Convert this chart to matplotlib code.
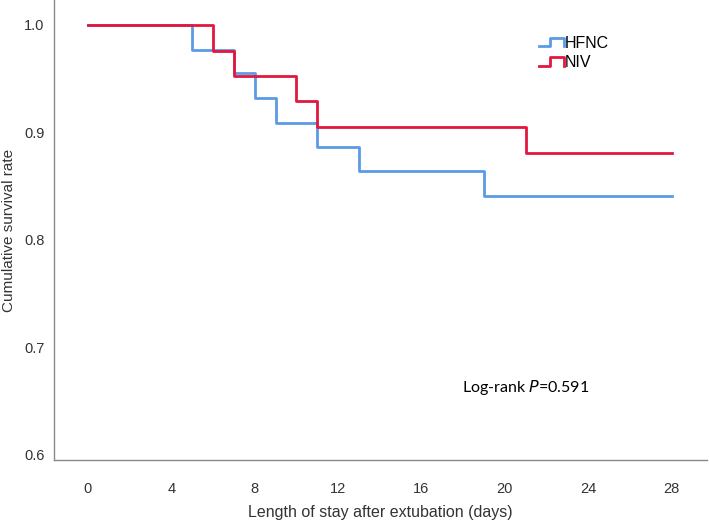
import matplotlib
matplotlib.use("Agg")
import matplotlib.pyplot as plt
from matplotlib.legend_handler import HandlerBase
from matplotlib.lines import Line2D

# Kaplan-Meier step data (days, survival)
hfnc_days = [0, 5, 7, 8, 9, 11, 13, 19, 28]
hfnc_surv = [1.0, 0.977, 0.955, 0.932, 0.909, 0.886, 0.864, 0.841, 0.841]
niv_days = [0, 6, 7, 10, 11, 21, 28]
niv_surv = [1.0, 0.976, 0.952, 0.929, 0.905, 0.881, 0.881]

x_ticks = [0, 4, 8, 12, 16, 20, 24, 28]
y_ticks = [0.6, 0.7, 0.8, 0.9, 1.0]

HFNC_COLOR = "#5B9BE6"
NIV_COLOR = "#E2173F"

plt.rcParams["font.family"] = ["Liberation Sans", "DejaVu Sans"]


class StepHandler(HandlerBase):
    def create_artists(self, legend, orig_handle, xdescent, ydescent,
                       width, height, fontsize, trans):
        x0, x1 = -xdescent, -xdescent + width
        xm = x0 + width * 0.45
        ylo, yhi = -ydescent + height * 0.15, -ydescent + height * 0.9
        line = Line2D([x0, xm, xm, x1, x1], [ylo, ylo, yhi, yhi, ylo],
                      color=orig_handle.get_color(), lw=2, transform=trans)
        return [line]


fig = plt.figure(figsize=(7.09, 5.28), dpi=100)
ax = fig.add_axes([0.0762, 0.1288, 0.921, 0.871])

h1, = ax.step(hfnc_days, hfnc_surv, where="post", color=HFNC_COLOR, lw=2, label="HFNC")
h2, = ax.step(niv_days, niv_surv, where="post", color=NIV_COLOR, lw=2, label="NIV")

ax.set_xlim(-1.63, 29.7)
ax.set_ylim(0.5953, 1.023)
ax.set_xticks(x_ticks)
ax.set_yticks(y_ticks)
ax.set_yticklabels([f"{v:.1f}" for v in y_ticks])
ax.tick_params(length=0, labelsize=10.5, colors="#333333")
ax.tick_params(axis="x", pad=16)
ax.tick_params(axis="y", pad=7)

for side in ["top", "right"]:
    ax.spines[side].set_visible(False)
for side in ["left", "bottom"]:
    ax.spines[side].set_color("#8a8a8a")
    ax.spines[side].set_linewidth(1)

ax.set_xlabel("Length of stay after extubation (days)", fontsize=11.5, color="#333333")
ax.set_ylabel("Cumulative survival rate", fontsize=11, color="#333333")
ax.xaxis.set_label_coords(0.5, -0.098)
ax.yaxis.set_label_coords(-0.058, 0.5)

ax.legend(handles=[h1, h2], loc="upper left", bbox_to_anchor=(0.72, 0.954),
          frameon=False, fontsize=11.5, handlelength=1.6, handletextpad=0.05,
          labelspacing=0.3, handler_map={Line2D: StepHandler()})

ax.text(17.93, 0.6623, "Log-rank $\\it{P}$=0.591", fontsize=11.5, family=["Lato", "DejaVu Sans"],
        color="black", va="center")

fig.savefig("out.png", dpi=100)
